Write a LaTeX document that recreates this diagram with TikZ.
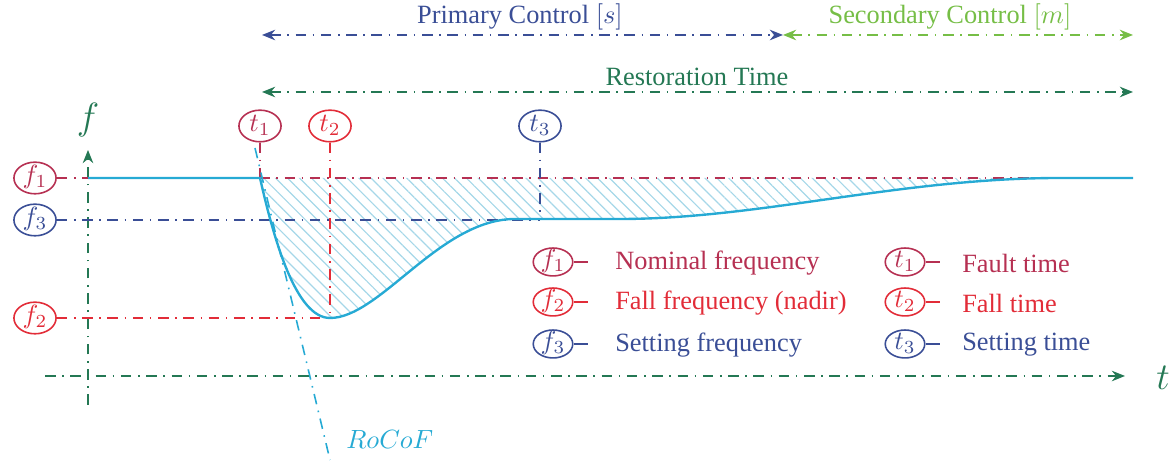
\documentclass[tikz,border=0pt]{standalone}
\usepackage{fontspec}
\setmainfont{Liberation Serif}
\usetikzlibrary{arrows.meta,shapes.geometric,patterns.meta}
\definecolor{crimc}{RGB}{182,48,82}
\definecolor{redc}{RGB}{226,44,56}
\definecolor{bluec}{RGB}{58,78,150}
\definecolor{cyanc}{RGB}{38,170,212}
\definecolor{dgreen}{RGB}{36,120,84}
\definecolor{lgreen}{RGB}{118,190,70}
\definecolor{hatchc}{RGB}{165,215,232}
\tikzset{
  dd/.style={line width=0.6pt, dash pattern=on 4pt off 2.5pt on 0.6pt off 2.5pt},
  emark/.style={draw, ellipse, line width=0.6pt, inner sep=0pt, minimum width=16pt, minimum height=12pt, text height=5pt, text depth=1pt},
  lmark/.style={emark, minimum width=15pt, minimum height=10.6pt},
  ltext/.style={anchor=west, font=\normalsize},
  dbl/.style={dd, {Stealth[length=5pt,width=4pt]}-{Stealth[length=5pt,width=4pt]}},
  sgl/.style={dd, -{Stealth[length=5pt,width=4pt]}},
}
\begin{document}
\begin{tikzpicture}[x=0.013333cm, y=-0.013333cm]
\useasboundingbox (0,0) rectangle (1175,463);
% coordinates
\coordinate (pa) at (262,35);
\coordinate (pb) at (783,35);
\coordinate (sb) at (1133,35);
\coordinate (ra) at (262,92);
\coordinate (rb) at (1133,92);
\coordinate (fa) at (88,405);
\coordinate (fb) at (88,150);
\coordinate (ta) at (45,376);
\coordinate (tb) at (1125,376);
\coordinate (A) at (260,178);
\coordinate (N) at (330,318);
\coordinate (S) at (540,220);
\coordinate (E) at (1133,178);
\coordinate (ro1) at (255,148);
\coordinate (ro2) at (330,460);
% hatched area
\fill[pattern={Lines[angle=-45,distance=3.2pt,line width=0.45pt]}, pattern color=hatchc]
  (260,178) .. controls (274,240) and (296,318) .. (330,318)
  .. controls (380,318) and (440,219) .. (515,219) -- (620,219)
  .. controls (760,219) and (900,178) .. (1060,178) -- (1133,178) -- cycle;
% top arrows
\draw[dbl, bluec] (pa) -- (pb);
\draw[dbl, lgreen] (pb) -- (sb);
\draw[dbl, dgreen] (ra) -- (rb);
\node[bluec] (prim) at (520,17) {Primary Control $[s]$};
\node[lgreen] (sec) at (950,17) {Secondary Control $[m]$};
\node[dgreen] (rest) at (697,77) {Restoration Time};
% axes
\draw[sgl, dgreen] (fa) -- (fb);
\draw[sgl, dgreen] (ta) -- (tb);
\node[dgreen, font=\Large] (flab) at (88,120) {$f$};
\node[dgreen, font=\Large] (tlab) at (1163,378) {$t$};
% markers
\node[emark, crimc] (f1) at (35,178) {$f_1$};
\node[emark, bluec] (f3) at (35,220) {$f_3$};
\node[emark, redc] (f2) at (35,318) {$f_2$};
\node[emark, crimc] (t1) at (260,126) {$t_1$};
\node[emark, redc] (t2) at (330,126) {$t_2$};
\node[emark, bluec] (t3) at (540,126) {$t_3$};
\draw[dd, crimc] (f1) -- (E);
\draw[dd, bluec] (f3) -- (S);
\draw[dd, redc] (f2) -- (N);
\draw[dd, crimc] (t1) -- (A);
\draw[dd, redc] (t2) -- (N);
\draw[dd, bluec] (t3) -- (S);
% RoCoF
\draw[dd, cyanc] (ro1) -- (ro2);
\node[cyanc, anchor=west] (rocof) at (337,440) {$RoCoF$};
% curve
\draw[cyanc, line width=0.9pt] (88,178) -- (260,178) .. controls (274,240) and (296,318) .. (330,318)
  .. controls (380,318) and (440,219) .. (515,219) -- (620,219)
  .. controls (760,219) and (900,178) .. (1060,178) -- (1133,178);
% legend
\node[lmark, crimc] (lf1) at (553,262) {$f_1$};
\node[lmark, redc] (lf2) at (553,302) {$f_2$};
\node[lmark, bluec] (lf3) at (553,344) {$f_3$};
\node[lmark, crimc] (lt1) at (905,262) {$t_1$};
\node[lmark, redc] (lt2) at (905,302) {$t_2$};
\node[lmark, bluec] (lt3) at (905,344) {$t_3$};
\foreach \n/\c in {lf1/crimc,lf2/redc,lf3/bluec,lt1/crimc,lt2/redc,lt3/bluec}{
  \draw[\c, line width=0.6pt] (\n.east) -- ++(14,0);
}
\node[ltext, crimc] (tf1) at (606,263) {Nominal frequency};
\node[ltext, redc] (tf2) at (606,303) {Fall frequency (nadir)};
\node[ltext, bluec] (tf3) at (606,345) {Setting frequency};
\node[ltext, crimc] (tt1) at (953,263) {Fault time};
\node[ltext, redc] (tt2) at (953,303) {Fall time};
\node[ltext, bluec] (tt3) at (953,345) {Setting time};
\end{tikzpicture}
\end{document}
